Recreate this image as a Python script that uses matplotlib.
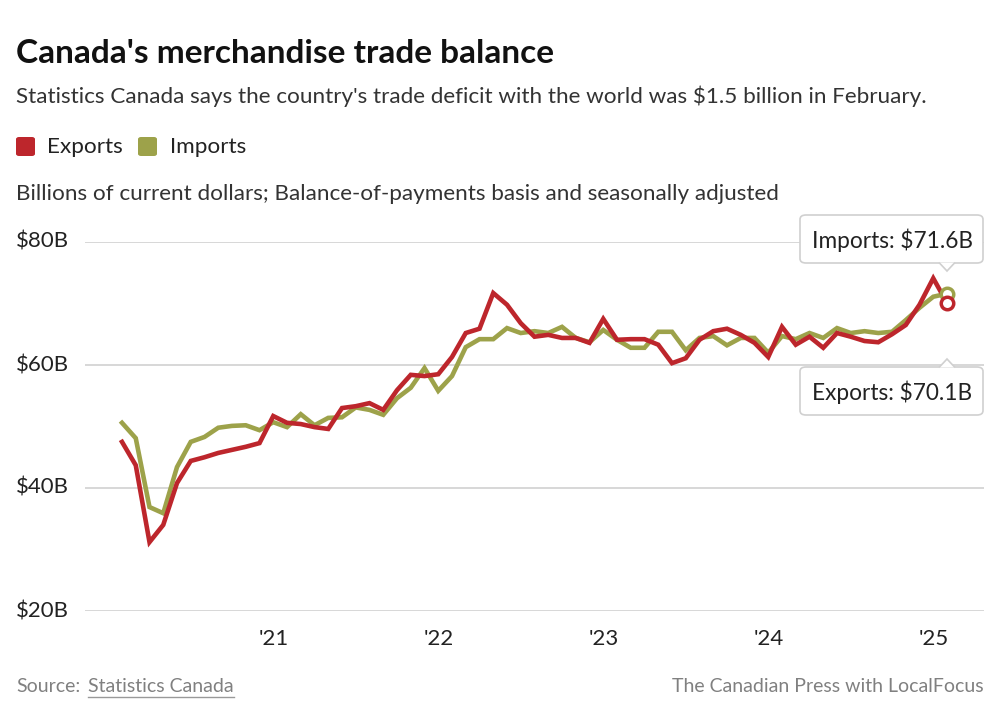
import numpy as np
import matplotlib.pyplot as plt
from matplotlib.patches import FancyBboxPatch, Polygon
from matplotlib.lines import Line2D
from matplotlib.transforms import blended_transform_factory

plt.rcParams['font.family'] = ['Lato', 'DejaVu Sans']

# monthly, Feb 2020 .. Feb 2025 (billions of dollars)
exports = [47.5, 43.7, 31.2, 34.0, 40.8, 44.4, 45.0, 45.7, 46.2, 46.7, 47.3,
           51.7, 50.6, 50.4, 49.9, 49.6, 53.0, 53.3, 53.8, 52.7, 55.9, 58.4, 58.2,
           58.5, 61.3, 65.2, 65.9, 71.7, 69.8, 66.8, 64.6, 64.9, 64.4, 64.4, 63.6,
           67.5, 64.1, 64.2, 64.2, 63.3, 60.3, 61.1, 64.1, 65.5, 65.9, 64.9, 63.6,
           61.3, 66.2, 63.3, 64.6, 62.8, 65.2, 64.6, 63.9, 63.7, 65.0, 66.5, 69.8,
           74.1, 70.1]
imports = [50.6, 48.1, 36.9, 35.9, 43.4, 47.5, 48.3, 49.8, 50.1, 50.2, 49.4,
           50.7, 49.9, 52.0, 50.2, 51.4, 51.5, 53.1, 52.7, 51.9, 54.6, 56.3, 59.5,
           55.8, 58.2, 62.9, 64.2, 64.2, 66.0, 65.2, 65.5, 65.2, 66.2, 64.4, 63.7,
           65.7, 64.1, 62.8, 62.8, 65.4, 65.4, 62.4, 64.4, 64.7, 63.2, 64.4, 64.4,
           62.0, 64.7, 64.2, 65.2, 64.4, 66.0, 65.2, 65.5, 65.2, 65.4, 67.3, 69.3,
           71.1, 71.6]
year_ticks = [11, 23, 35, 47, 59]
year_labels = ["'21", "'22", "'23", "'24", "'25"]
y_ticks = [20, 40, 60, 80]
y_labels = ['$20B', '$40B', '$60B', '$80B']

RED = '#bd262c'
OLIVE = '#9da24a'
W, H = 1000, 725

def fy(py):
    return 1 - py / H

fig = plt.figure(figsize=(10, 7.25), dpi=100)
ax = fig.add_axes([85 / W, fy(611), (984 - 85) / W, (611 - 242) / H])

x = np.arange(len(exports))
ax.plot(x, exports, color=RED, lw=3.3, solid_joinstyle='miter', zorder=3, clip_on=False)
ax.plot(x, imports, color=OLIVE, lw=3.3, solid_joinstyle='miter', zorder=2, clip_on=False)
ax.plot(x[-1], imports[-1], 'o', ms=9, mfc='white', mec=OLIVE, mew=2.5, zorder=4, clip_on=False)
ax.plot(x[-1], exports[-1], 'o', ms=9, mfc='white', mec=RED, mew=2.5, zorder=5, clip_on=False)

ax.set_xlim((85 - 122) / 13.75, (984 - 122) / 13.75)
ax.set_ylim(20, 80)
for v in y_ticks:
    ax.axhline(v, color='#d4d4d4', lw=1.3, zorder=1)
ax.set_yticks([])
ax.set_xticks([])
for s in ax.spines.values():
    s.set_visible(False)

# axis labels
ytrans = blended_transform_factory(fig.transFigure, ax.transData)
for v, lab in zip(y_ticks, y_labels):
    ax.text(16 / W, v, lab, transform=ytrans, ha='left', va='center', fontsize=16, color='#222222')
xtrans = blended_transform_factory(ax.transData, fig.transFigure)
for t, lab in zip(year_ticks, year_labels):
    ax.text(t, fy(645), lab, transform=xtrans, ha='center', va='baseline', fontsize=16, color='#222222')

# callout boxes
def callout(text, value, above):
    if above:
        top, bot = 215, 263
    else:
        top, bot = 367, 415
    box = FancyBboxPatch((800 / W, fy(bot)), 183 / W, (bot - top) / H,
                         boxstyle='round,pad=0,rounding_size=0.006',
                         transform=fig.transFigure, fc='white', ec='#d0d0d0', lw=1.2, zorder=6)
    fig.patches.append(box)
    px = 947
    if above:
        tri = [(px - 8, bot - 0.5), (px, bot + 8), (px + 8, bot - 0.5)]
    else:
        tri = [(px - 8, top + 0.5), (px, top - 8), (px + 8, top + 0.5)]
    poly = Polygon([(a / W, fy(b)) for a, b in tri], closed=False, transform=fig.transFigure,
                   fc='white', ec='#d0d0d0', lw=1.2, zorder=7)
    fig.patches.append(poly)
    fig.text(892 / W, fy((top + bot) / 2 + 1), text + ': $%.1fB' % value, ha='center', va='center',
             fontsize=16.3, color='#222222', zorder=8)

callout('Imports', imports[-1], True)
callout('Exports', exports[-1], False)

# header
fig.text(16 / W, fy(63), "Canada's merchandise trade balance", fontsize=24, fontweight='bold',
         color='#111111', va='baseline')
fig.text(16 / W, fy(103), "Statistics Canada says the country's trade deficit with the world was $1.5 billion in February.",
         fontsize=16.2, color='#333333', va='baseline')
fig.patches.append(FancyBboxPatch((16 / W, fy(156)), 19 / W, 19 / H, boxstyle='round,pad=0,rounding_size=0.003',
                                  transform=fig.transFigure, fc=RED, ec='none'))
fig.text(47 / W, fy(153), 'Exports', fontsize=16.2, color='#222222', va='baseline')
fig.patches.append(FancyBboxPatch((138 / W, fy(156)), 19 / W, 19 / H, boxstyle='round,pad=0,rounding_size=0.003',
                                  transform=fig.transFigure, fc=OLIVE, ec='none'))
fig.text(170 / W, fy(153), 'Imports', fontsize=16.2, color='#222222', va='baseline')
fig.text(16 / W, fy(200), 'Billions of current dollars; Balance-of-payments basis and seasonally adjusted',
         fontsize=16.2, color='#333333', va='baseline')

# footer
fig.text(16 / W, fy(692), 'Source:', fontsize=14, color='#808080', va='baseline')
src = fig.text(88 / W, fy(692), 'Statistics Canada', fontsize=14, color='#808080', va='baseline')
fig.text(984 / W, fy(692), 'The Canadian Press with LocalFocus', fontsize=14, color='#808080',
         va='baseline', ha='right')
fig.canvas.draw()
bb = src.get_window_extent()
fig.lines.append(Line2D([bb.x0 / W, bb.x1 / W], [fy(697), fy(697)], transform=fig.transFigure,
                       color='#999999', lw=1))

fig.savefig('out.png', dpi=100)
